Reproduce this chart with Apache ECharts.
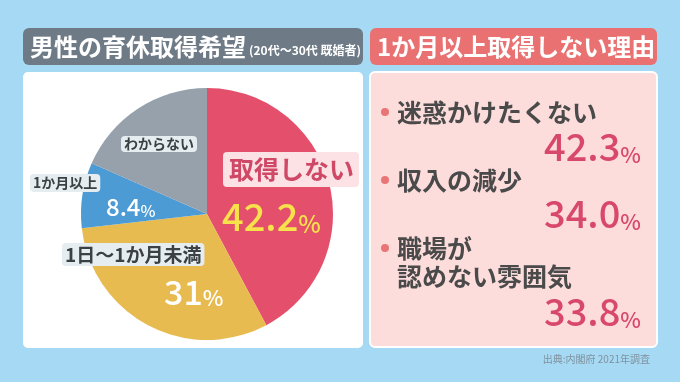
<!DOCTYPE html>
<html><head><meta charset="utf-8">
<script src="https://cdn.jsdelivr.net/npm/echarts@6/dist/echarts.min.js"></script>
<style>html,body{margin:0;padding:0;background:#a6d9f3}#c{width:680px;height:382px}</style>
</head><body><div id="c"></div>
<script>
var pieCategories = ['取得しない', '1日〜1か月未満', '1か月以上', 'わからない'];
var pieValues = [42.2, 31, 8.4, 18.4];
var pieShown = ['42.2', '31', '8.4', ''];
var reasonLabels = ['迷惑かけたくない', '収入の減少', '職場が\n認めない雰囲気'];
var reasonValues = ['42.3', '34.0', '33.8'];
var leftTitle = '男性の育休取得希望';
var leftSub = '(20代〜30代 既婚者)';
var rightTitle = '1か月以上取得しない理由';
var sourceText = '出典:内閣府 2021年調査';

var F = '"Noto Sans CJK JP","Noto Sans",sans-serif';
var pieColors = ['#e4506b', '#e8bb50', '#4c9bd5', '#96a1ab'];

var chart = echarts.init(document.getElementById('c'), null, {renderer: 'canvas'});

var g = [];
// panels
g.push({type: 'rect', z: -5, shape: {x: 23, y: 28, width: 340, height: 37, r: 6}, style: {fill: '#6e7b86'}});
g.push({type: 'rect', z: -5, shape: {x: 370, y: 28, width: 287, height: 37, r: 6}, style: {fill: '#ea7171'}});
g.push({type: 'rect', z: -5, shape: {x: 23, y: 72, width: 340, height: 276, r: 5}, style: {fill: '#ffffff'}});
g.push({type: 'rect', z: -5, shape: {x: 370, y: 72, width: 287, height: 275, r: 5}, style: {fill: '#fddcdc', stroke: '#ffffff', lineWidth: 2}});
// titles
g.push({type: 'text', z: 10, style: {x: 30, y: 47, text: leftTitle, font: 'bold 24px ' + F, fill: '#ffffff', textVerticalAlign: 'middle'}});
g.push({type: 'text', z: 10, style: {x: 249, y: 50, text: leftSub, font: 'bold 12px ' + F, fill: '#ffffff', textVerticalAlign: 'middle'}});
g.push({type: 'text', z: 10, style: {x: 377, y: 47, text: rightTitle, font: 'bold 24px ' + F, fill: '#ffffff', textVerticalAlign: 'middle'}});

// pie labels
var boxStyle = function (txt, x, y, size, col, bg, pad) {
  return {type: 'text', z: 10, style: {x: x, y: y, text: txt, font: 'bold ' + size + 'px ' + F, fill: col,
    backgroundColor: bg, padding: pad, borderRadius: 4, textVerticalAlign: 'top'}};
};
g.push(boxStyle(pieCategories[0], 223, 152, 25, '#cf4866', '#fce1e5', [5, 5, 5, 6]));
g.push(boxStyle(pieCategories[1], 62, 243, 19, '#3b4045', '#e6edf1', [2, 3, 2, 3]));
g.push(boxStyle(pieCategories[2], 30, 174, 14, '#3b4045', '#e6edf1', [2, 3, 2, 3]));
g.push(boxStyle(pieCategories[3], 121, 136, 14, '#3b4045', '#e6edf1', [1, 3, 1, 3]));

var valText = function (v, x, y, size, psize, col, align) {
  return {type: 'text', z: 10, style: {x: x, y: y, text: '{a|' + v + '}{b|%}', textAlign: align || 'left', textVerticalAlign: 'bottom',
    rich: {a: {font: '500 ' + size + 'px ' + F, fill: col},
           b: {font: '500 ' + psize + 'px ' + F, fill: col, verticalAlign: 'bottom'}}}};
};
g.push(valText(pieShown[0], 222, 236, 38, 24, '#f8e24b'));
g.push(valText(pieShown[1], 164, 309, 34, 22, '#ffffff'));
g.push(valText(pieShown[2], 106, 219, 24, 16, '#ffffff'));

// right panel
var itemY = [112, 180, 248];
var valY = [166, 233, 331];
for (var i = 0; i < reasonLabels.length; i++) {
  g.push({type: 'circle', z: 10, shape: {cx: 385, cy: itemY[i], r: 4}, style: {fill: '#e87676'}});
  g.push({type: 'text', z: 10, style: {x: 397, y: itemY[i] - 14, text: reasonLabels[i], font: 'bold 25px ' + F, fill: '#4a4a4a',
    textVerticalAlign: 'top', lineHeight: 28}});
  g.push(valText(reasonValues[i], 641, valY[i], 38, 22, '#d8486a', 'right'));
}
g.push({type: 'text', z: 10, style: {x: 650, y: 359, text: sourceText, font: '10px ' + F, fill: '#7f929e', textAlign: 'right', textVerticalAlign: 'middle'}});

chart.setOption({
  backgroundColor: '#a6d9f3',
  animation: false,
  graphic: g,
  series: [{
    type: 'pie',
    center: [207, 214],
    radius: 126,
    startAngle: 90,
    clockwise: true,
    label: {show: false},
    labelLine: {show: false},
    emphasis: {disabled: true},
    data: pieCategories.map(function (c, i) { return {name: c, value: pieValues[i], itemStyle: {color: pieColors[i]}}; })
  }]
});
</script>
</body></html>
